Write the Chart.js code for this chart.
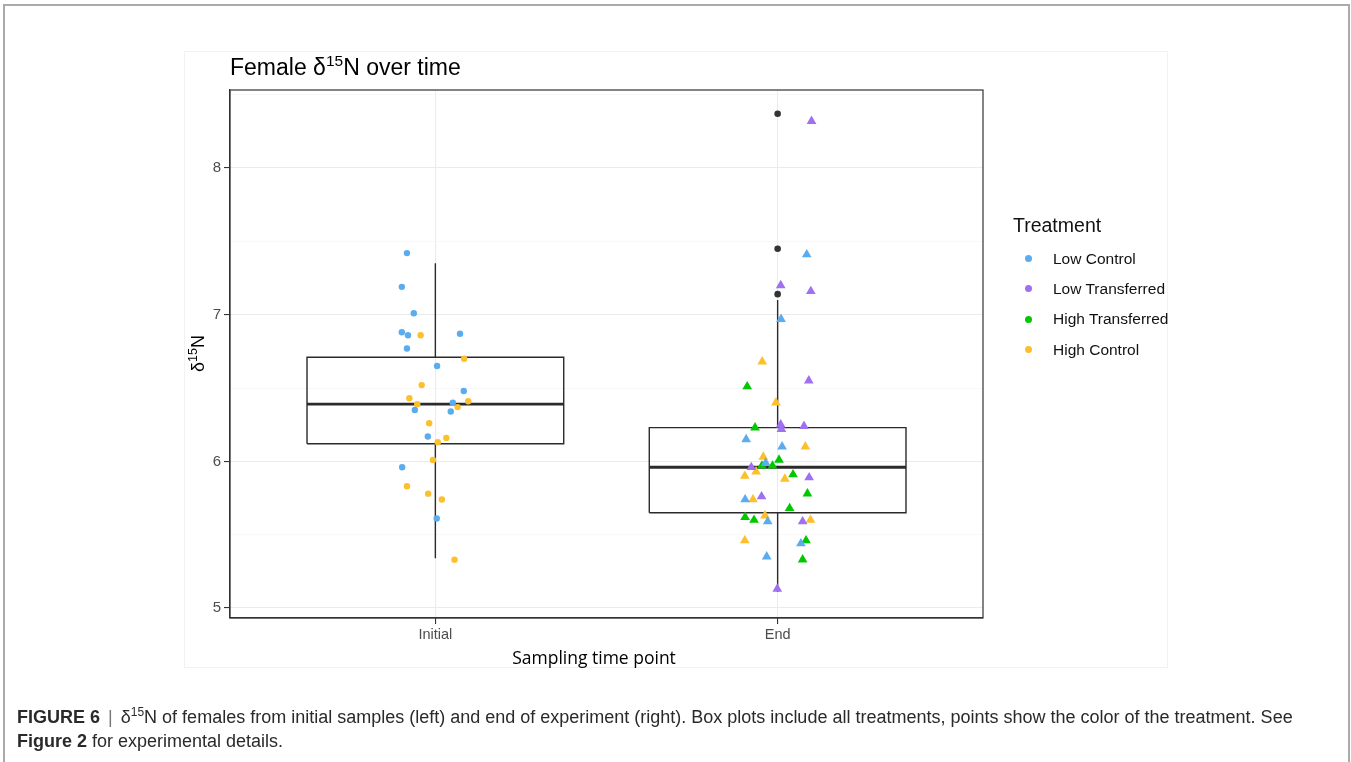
<!DOCTYPE html>
<html>
<head>
<meta charset="utf-8">
<script src="https://cdn.jsdelivr.net/npm/chart.js@4"></script>
<style>
body{margin:0;background:#fff;font-family:"Liberation Sans",Arial,sans-serif;}
#frame{position:absolute;left:3px;top:4px;width:1343px;height:800px;border:2px solid #ababab;border-bottom:none;}
#figure{position:absolute;left:184px;top:51px;width:982px;height:615px;border:1px solid #f2f2f2;}
#chart{position:absolute;left:0;top:0;}
.leg{position:absolute;font-size:15.5px;color:#111;white-space:nowrap;}
.dot{position:absolute;width:7px;height:7px;border-radius:50%;}
#caption{position:absolute;left:17px;top:705px;font-size:18px;line-height:24px;color:#2a2a2a;white-space:nowrap;}
#caption sup{font-size:12px;line-height:0;}
#caption .bar{color:#777;padding:0 3px;}
</style>
</head>
<body>
<div id="frame"></div>
<div id="figure"></div>
<canvas id="chart" width="1351" height="762"></canvas>
<div id="legend"></div>
<div id="caption"><b>FIGURE 6</b> <span class="bar">|</span> δ<sup>15</sup>N of females from initial samples (left) and end of experiment (right). Box plots include all treatments, points show the color of the treatment. See<br><b>Figure 2</b> for experimental details.</div>
<script>
const categories = ["Initial", "End"];
const treatments = ["Low Control", "Low Transferred", "High Transferred", "High Control"];
const colors = ["#5aacee", "#a070f0", "#00c800", "#fdbf2a"];

// box plot summary for each sampling point
const whiskerLow = [5.34, 5.11];
const q1 = [6.12, 5.65];
const medians = [6.39, 5.96];
const q3 = [6.71, 6.23];
const whiskerHigh = [7.35, 7.10];
const outliersEnd = [8.37, 7.45, 7.14];

// d15N per treatment, with the horizontal jitter
const lowControlInitial = [7.42, 7.19, 7.01, 6.88, 6.86, 6.87, 6.77, 6.65, 6.48, 6.40, 6.35, 6.34, 6.17, 5.96, 5.61];
const lowControlInitialJitter = [-0.083, -0.098, -0.063, -0.098, -0.080, 0.072, -0.083, 0.005, 0.083, 0.051, -0.060, 0.045, -0.022, -0.097, 0.004];
const lowControlEnd = [7.41, 6.97, 6.15, 6.10, 5.99, 5.74, 5.59, 5.44, 5.35];
const lowControlEndJitter = [0.085, 0.010, -0.092, 0.013, -0.035, -0.095, -0.029, 0.068, -0.032];

const lowTransferredEnd = [8.32, 7.20, 7.16, 6.55, 6.25, 6.22, 6.24, 5.96, 5.89, 5.76, 5.59, 5.13];
const lowTransferredEndJitter = [0.099, 0.009, 0.097, 0.091, 0.009, 0.011, 0.077, -0.077, 0.092, -0.047, 0.073, -0.001];

const highTransferredEnd = [6.51, 6.23, 6.01, 5.97, 5.97, 5.91, 5.78, 5.68, 5.62, 5.60, 5.46, 5.33];
const highTransferredEndJitter = [-0.089, -0.066, 0.004, -0.046, -0.015, 0.045, 0.087, 0.035, -0.095, -0.069, 0.083, 0.073];

const highControlInitial = [6.86, 6.70, 6.52, 6.43, 6.39, 6.41, 6.37, 6.26, 6.16, 6.13, 6.01, 5.83, 5.78, 5.74, 5.33];
const highControlInitialJitter = [-0.043, 0.084, -0.040, -0.076, -0.053, 0.096, 0.065, -0.018, 0.032, 0.007, -0.007, -0.083, -0.021, 0.019, 0.056];
const highControlEnd = [6.68, 6.40, 6.10, 6.03, 5.93, 5.90, 5.88, 5.74, 5.63, 5.60, 5.46];
const highControlEndJitter = [-0.045, -0.005, 0.081, -0.042, -0.063, -0.096, 0.021, -0.072, -0.037, 0.096, -0.096];

const BOX_HALF = 0.375;

function pts(values, jitter, pos) {
    return values.map((v, i) => ({x: pos + jitter[i], y: v}));
}

const pointSets = [
    pts(lowControlInitial, lowControlInitialJitter, 1).concat(pts(lowControlEnd, lowControlEndJitter, 2)),
    pts(lowTransferredEnd, lowTransferredEndJitter, 2),
    pts(highTransferredEnd, highTransferredEndJitter, 2),
    pts(highControlInitial, highControlInitialJitter, 1).concat(pts(highControlEnd, highControlEndJitter, 2))
];

// box outlines, medians and whiskers as broken lines
const boxLines = [], medianLines = [], whiskerLines = [];
categories.forEach((c, i) => {
    const p = i + 1;
    boxLines.push({x: p - BOX_HALF, y: q1[i]}, {x: p + BOX_HALF, y: q1[i]}, {x: p + BOX_HALF, y: q3[i]},
        {x: p - BOX_HALF, y: q3[i]}, {x: p - BOX_HALF, y: q1[i]}, {x: p + 0.5, y: null});
    medianLines.push({x: p - BOX_HALF, y: medians[i]}, {x: p + BOX_HALF, y: medians[i]}, {x: p + 0.5, y: null});
    whiskerLines.push({x: p, y: q3[i]}, {x: p, y: whiskerHigh[i]}, {x: p, y: null},
        {x: p, y: q1[i]}, {x: p, y: whiskerLow[i]}, {x: p, y: null});
});

const datasets = treatments.map((t, i) => ({
    type: "scatter",
    label: t,
    data: pointSets[i],
    backgroundColor: colors[i],
    borderWidth: 0,
    pointStyle: ctx => ctx.raw && ctx.raw.x > 1.5 ? "triangle" : "circle",
    pointRadius: ctx => ctx.raw && ctx.raw.x > 1.5 ? 5.6 : 3.2,
    order: 0
}));

const lineStyle = {type: "line", borderColor: "#2b2b2b", pointRadius: 0, fill: false, spanGaps: false, tension: 0, order: 1, borderJoinStyle: "miter"};
datasets.push(Object.assign({label: "box", data: boxLines, borderWidth: 1.4}, lineStyle));
datasets.push(Object.assign({label: "median", data: medianLines, borderWidth: 2.8}, lineStyle));
datasets.push(Object.assign({label: "whisker", data: whiskerLines, borderWidth: 1.4}, lineStyle));
datasets.push({
    type: "scatter",
    label: "outliers",
    data: outliersEnd.map(v => ({x: 2, y: v})),
    backgroundColor: "#333",
    borderWidth: 0,
    pointRadius: 3.3,
    order: 1
});

function drawParts(ctx, parts, x, y, align) {
    let w = 0;
    parts.forEach(p => { ctx.font = p[1]; w += ctx.measureText(p[0]).width; });
    let cx = align === "center" ? x - w / 2 : x;
    parts.forEach(p => {
        ctx.font = p[1];
        ctx.fillText(p[0], cx, y + p[2]);
        cx += ctx.measureText(p[0]).width;
    });
}

const extras = {
    id: "extras",
    afterDraw(chart) {
        const ctx = chart.ctx, a = chart.chartArea;
        ctx.save();
        ctx.strokeStyle = "#333";
        ctx.lineWidth = 1.2;
        ctx.strokeRect(a.left, a.top, a.right - a.left, a.bottom - a.top);

        ctx.fillStyle = "#000";
        ctx.textBaseline = "alphabetic";
        ctx.textAlign = "left";
        const f = "Liberation Sans, Arial, sans-serif";
        drawParts(ctx, [["Female δ", "23px " + f, 0], ["15", "15.5px " + f, -9.5], ["N over time", "23px " + f, 0]], 230, 75, "left");

        drawParts(ctx, [["Sampling time point", "17.5px Open Sans, sans-serif", 0]], 594, 664, "center");

        ctx.translate(204, 353.5);
        ctx.rotate(-Math.PI / 2);
        drawParts(ctx, [["δ", "18px " + f, 0], ["15", "12.5px " + f, -7.5], ["N", "18px " + f, 0]], 0, 0, "center");
        ctx.restore();
    }
};

const isMajor = ctx => ctx.tick && Number.isInteger(ctx.tick.value);

new Chart(document.getElementById("chart"), {
    data: {datasets: datasets},
    options: {
        responsive: false,
        animation: false,
        layout: {padding: {left: 190, right: 368, top: 90, bottom: 100}},
        plugins: {legend: {display: false}, tooltip: {enabled: false}},
        scales: {
            x: {
                type: "linear",
                min: 0.4,
                max: 2.6,
                afterBuildTicks: s => { s.ticks = categories.map((c, i) => ({value: i + 1})); },
                afterFit: s => { s.height = 44; },
                ticks: {
                    callback: v => categories[v - 1],
                    font: {family: "Liberation Sans", size: 14.5},
                    color: "#4d4d4d",
                    padding: 2,
                    maxRotation: 0
                },
                grid: {color: "#ebebeb", lineWidth: 1.1, tickColor: "#333", tickLength: 6, tickWidth: 1.1},
                border: {color: "#333", width: 1.2}
            },
            y: {
                type: "linear",
                min: 4.932,
                max: 8.532,
                afterFit: s => { s.width = 40; },
                ticks: {
                    stepSize: 0.5,
                    includeBounds: false,
                    callback: v => Number.isInteger(v) ? v : "",
                    font: {family: "Liberation Sans", size: 15},
                    color: "#4d4d4d",
                    padding: 3
                },
                grid: {
                    color: ctx => isMajor(ctx) ? "#ebebeb" : "#f4f4f4",
                    lineWidth: ctx => isMajor(ctx) ? 1.1 : 0.6,
                    tickColor: ctx => isMajor(ctx) ? "#333" : "rgba(0,0,0,0)",
                    tickLength: 6,
                    tickWidth: 1.1
                },
                border: {color: "#333", width: 1.2}
            }
        }
    },
    plugins: [extras]
});

// legend
const legend = document.getElementById("legend");
const head = document.createElement("div");
head.className = "leg";
head.style.cssText = "left:1013px;top:214px;font-size:19.5px;";
head.textContent = "Treatment";
legend.appendChild(head);
treatments.forEach((t, i) => {
    const cy = 258.5 + i * 30.4;
    const d = document.createElement("div");
    d.className = "dot";
    d.style.cssText = "left:1024.5px;top:" + (cy - 3.5) + "px;background:" + colors[i] + ";";
    legend.appendChild(d);
    const l = document.createElement("div");
    l.className = "leg";
    l.style.cssText = "left:1053px;top:" + (cy - 9) + "px;";
    l.textContent = t;
    legend.appendChild(l);
});
</script>
</body>
</html>
